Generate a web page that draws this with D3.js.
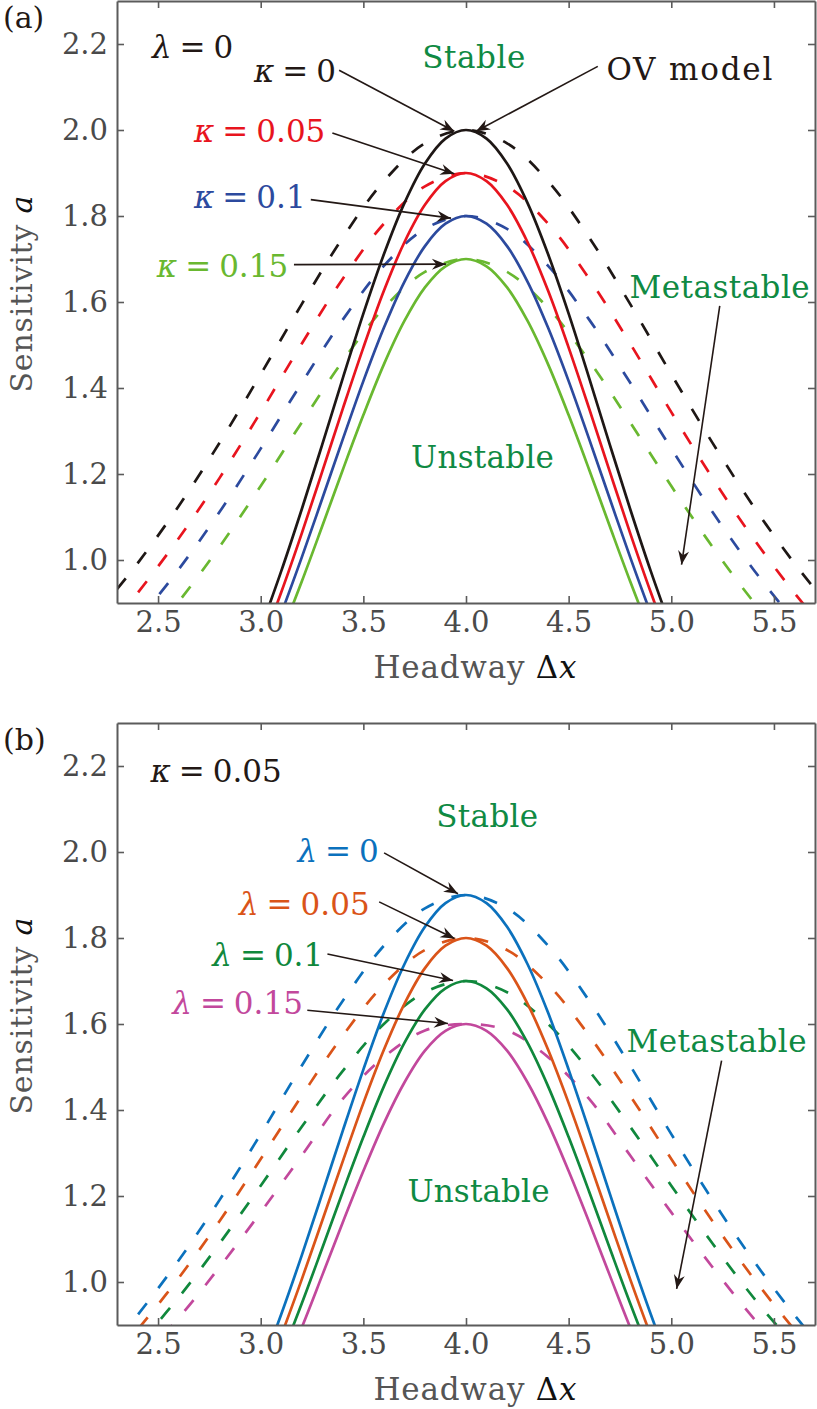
<!DOCTYPE html>
<html>
<head>
<meta charset="utf-8">
<script src="https://cdn.jsdelivr.net/npm/d3@7/dist/d3.min.js"></script>
<style>
  body { margin: 0; background: #fff; }
  svg text { font-family: "DejaVu Serif", "Liberation Serif", serif; }
</style>
</head>
<body>
<svg id="fig" width="817" height="1409"></svg>
<script>
// ---- data ----
// headway grid for the neutral stability (solid) curves
const xSolid = [3.0, 3.1, 3.2, 3.3, 3.4, 3.5, 3.6, 3.7, 3.8, 3.9, 4.0,
                4.1, 4.2, 4.3, 4.4, 4.5, 4.6, 4.7, 4.8, 4.9, 5.0];
// headway grid for the coexisting (dashed) curves
const xDash = [2.3, 2.4, 2.6, 2.8, 3.0, 3.2, 3.4, 3.6, 3.8, 4.0,
               4.2, 4.4, 4.6, 4.8, 5.0, 5.2, 5.4, 5.6, 5.7];

// solid curves, peak 2.0 / 1.9 / 1.8 / 1.7 / 1.6
const solid20 = [0.840, 0.974, 1.118, 1.269, 1.423, 1.573, 1.711, 1.830, 1.922, 1.980, 2.000,
                 1.980, 1.922, 1.830, 1.711, 1.573, 1.423, 1.269, 1.118, 0.974, 0.840];
const solid19 = [0.798, 0.925, 1.062, 1.206, 1.352, 1.494, 1.626, 1.739, 1.826, 1.881, 1.900,
                 1.881, 1.826, 1.739, 1.626, 1.494, 1.352, 1.206, 1.062, 0.925, 0.798];
const solid18 = [0.756, 0.876, 1.006, 1.143, 1.281, 1.416, 1.540, 1.647, 1.730, 1.782, 1.800,
                 1.782, 1.730, 1.647, 1.540, 1.416, 1.281, 1.143, 1.006, 0.876, 0.756];
const solid17 = [0.714, 0.828, 0.950, 1.079, 1.210, 1.337, 1.455, 1.556, 1.634, 1.683, 1.700,
                 1.683, 1.634, 1.556, 1.455, 1.337, 1.210, 1.079, 0.950, 0.828, 0.714];
const solid16 = [0.672, 0.779, 0.894, 1.016, 1.139, 1.258, 1.369, 1.464, 1.538, 1.584, 1.600,
                 1.584, 1.538, 1.464, 1.369, 1.258, 1.139, 1.016, 0.894, 0.779, 0.672];

// dashed curves, panel (a): kappa = 0, 0.05, 0.1, 0.15
const dashK0   = [0.932, 0.992, 1.125, 1.273, 1.432, 1.595, 1.750, 1.881, 1.969, 2.000,
                  1.969, 1.881, 1.750, 1.595, 1.432, 1.273, 1.125, 0.992, 0.932];
const dashK005 = [0.866, 0.923, 1.050, 1.191, 1.344, 1.503, 1.654, 1.782, 1.869, 1.900,
                  1.869, 1.782, 1.654, 1.503, 1.344, 1.191, 1.050, 0.923, 0.866];
const dashK01  = [0.803, 0.858, 0.978, 1.112, 1.259, 1.412, 1.559, 1.684, 1.770, 1.800,
                  1.770, 1.684, 1.559, 1.412, 1.259, 1.112, 0.978, 0.858, 0.803];
const dashK015 = [0.739, 0.790, 0.903, 1.031, 1.172, 1.320, 1.463, 1.586, 1.670, 1.700,
                  1.670, 1.586, 1.463, 1.320, 1.172, 1.031, 0.903, 0.790, 0.739];

// dashed curves, panel (b): lambda = 0, 0.05, 0.1, 0.15
const dashL0   = [0.866, 0.923, 1.050, 1.191, 1.344, 1.503, 1.654, 1.782, 1.869, 1.900,
                  1.869, 1.782, 1.654, 1.503, 1.344, 1.191, 1.050, 0.923, 0.866];
const dashL005 = [0.835, 0.889, 1.009, 1.142, 1.286, 1.433, 1.573, 1.692, 1.772, 1.800,
                  1.772, 1.692, 1.573, 1.433, 1.286, 1.142, 1.009, 0.889, 0.835];
const dashL01  = [0.800, 0.852, 0.964, 1.090, 1.224, 1.361, 1.491, 1.600, 1.674, 1.700,
                  1.674, 1.600, 1.491, 1.361, 1.224, 1.090, 0.964, 0.852, 0.800];
const dashL015 = [0.765, 0.811, 0.916, 1.035, 1.162, 1.294, 1.426, 1.523, 1.585, 1.600,
                  1.585, 1.523, 1.426, 1.294, 1.162, 1.035, 0.916, 0.811, 0.765];

const xTicks = [2.5, 3.0, 3.5, 4.0, 4.5, 5.0, 5.5];
const yTicks = [1.0, 1.2, 1.4, 1.6, 1.8, 2.0, 2.2];

// ---- styling ----
const ink = "#231815";
const txtGreen = "#0f8a43";
const serif = "DejaVu Serif, Liberation Serif, serif";
const labelSize = 31;
const tickSize = 29;

const svg = d3.select("#fig");
const defs = svg.append("defs");

defs.append("marker")
    .attr("id", "head")
    .attr("markerUnits", "userSpaceOnUse")
    .attr("viewBox", "-15 -7 16 14")
    .attr("markerWidth", 16)
    .attr("markerHeight", 14)
    .attr("refX", 0)
    .attr("refY", 0)
    .attr("orient", "auto")
    .append("path")
    .attr("d", "M0,0 L-14,-5.5 L-9.5,0 L-14,5.5 Z")
    .attr("fill", ink);

const x = d3.scaleLinear().domain([2.3, 5.7]).range([117, 815]);

// word label (stretched a little to the width of the original font)
function addWord(g, y, lab) {
    g.append("text")
        .attr("x", x(lab.x))
        .attr("y", y(lab.y))
        .attr("fill", lab.color)
        .attr("font-family", serif)
        .attr("font-size", labelSize)
        .attr("textLength", lab.w)
        .attr("lengthAdjust", "spacing")
        .text(lab.text);
}

// "symbol = value" label with relation spacing round the "="
function addEq(g, y, lab) {
    const t = g.append("text")
        .attr("x", x(lab.x))
        .attr("y", y(lab.y))
        .attr("fill", lab.color)
        .attr("font-family", serif)
        .attr("font-size", labelSize);
    t.append("tspan").text(lab.sym).attr("font-style", "italic");
    t.append("tspan").text("=").attr("dx", 8);
    t.append("tspan").text(lab.val).attr("dx", 8);
}

function drawPanel(cfg) {
    const top = cfg.top, h = 602;
    const y = d3.scaleLinear().domain([0.9, 2.3]).range([top + h, top]);
    const g = svg.append("g");

    defs.append("clipPath").attr("id", "clip-" + cfg.id)
        .append("rect")
        .attr("x", x(2.3)).attr("y", top)
        .attr("width", x(5.7) - x(2.3)).attr("height", h);

    const line = d3.line()
        .x(d => x(d[0]))
        .y(d => y(d[1]))
        .curve(d3.curveCatmullRom);

    const curves = g.append("g").attr("clip-path", `url(#clip-${cfg.id})`);

    cfg.series.forEach(s => {
        curves.append("path")
            .datum(xDash.map((v, i) => [v, s.dash[i]]))
            .attr("d", line)
            .attr("fill", "none")
            .attr("stroke", s.color)
            .attr("stroke-width", 2.7)
            .attr("stroke-dasharray", "14,19");
    });
    cfg.series.forEach(s => {
        curves.append("path")
            .datum(xSolid.map((v, i) => [v, s.solid[i]]))
            .attr("d", line)
            .attr("fill", "none")
            .attr("stroke", s.color)
            .attr("stroke-width", 2.7);
    });

    // axes, ticks pointing inward on all four sides
    const fmt = d3.format(".1f");
    const axB = g.append("g").attr("transform", `translate(0,${top + h})`)
        .call(d3.axisBottom(x).tickValues(xTicks).tickSize(-7).tickSizeOuter(0).tickPadding(8).tickFormat(fmt));
    const axL = g.append("g").attr("transform", `translate(${x(2.3)},0)`)
        .call(d3.axisLeft(y).tickValues(yTicks).tickSize(-7).tickSizeOuter(0).tickPadding(9).tickFormat(fmt));
    const axT = g.append("g").attr("transform", `translate(0,${top})`)
        .call(d3.axisTop(x).tickValues(xTicks).tickSize(-7).tickSizeOuter(0).tickFormat(""));
    const axR = g.append("g").attr("transform", `translate(${x(5.7)},0)`)
        .call(d3.axisRight(y).tickValues(yTicks).tickSize(-7).tickSizeOuter(0).tickFormat(""));

    [axB, axL, axT, axR].forEach(a => {
        a.attr("font-family", serif);
        a.select(".domain").attr("stroke", "#5b5b5b").attr("stroke-width", 2);
        a.selectAll(".tick line").attr("stroke", "#5b5b5b").attr("stroke-width", 1.6);
        a.selectAll("text")
            .attr("font-family", serif)
            .attr("font-size", tickSize)
            .attr("fill", "#4a4a4a");
    });

    // axis titles
    const xt = g.append("text")
        .attr("x", 475).attr("y", top + h + 75)
        .attr("text-anchor", "middle")
        .attr("font-family", serif)
        .attr("font-size", labelSize)
        .attr("fill", "#555")
        .attr("textLength", 203).attr("lengthAdjust", "spacing");
    xt.append("tspan").text("Headway ");
    xt.append("tspan").text("Δ").attr("fill", "#111");
    xt.append("tspan").text("x").attr("font-style", "italic").attr("fill", "#111");

    const yt = g.append("text")
        .attr("transform", `translate(32,${top + h / 2 - 8}) rotate(-90)`)
        .attr("text-anchor", "middle")
        .attr("font-family", serif)
        .attr("font-size", 30)
        .attr("fill", "#555")
        .attr("textLength", 197).attr("lengthAdjust", "spacing");
    yt.append("tspan").text("Sensitivity ");
    yt.append("tspan").text("a").attr("font-style", "italic").attr("fill", "#111");

    // panel letter
    g.append("text")
        .attr("x", 3).attr("y", top + 27)
        .attr("font-family", serif)
        .attr("font-size", 30)
        .attr("fill", ink)
        .text(cfg.letter);

    cfg.eqs.forEach(lab => addEq(g, y, lab));
    cfg.words.forEach(lab => addWord(g, y, lab));

    cfg.arrows.forEach(a => {
        g.append("line")
            .attr("x1", x(a[0])).attr("y1", y(a[1]))
            .attr("x2", x(a[2])).attr("y2", y(a[3]))
            .attr("stroke", ink)
            .attr("stroke-width", 1.6)
            .attr("marker-end", "url(#head)");
    });
}

drawPanel({
    id: "a", top: 1, letter: "(a)",
    series: [
        { color: "#1e1715", solid: solid20, dash: dashK0 },
        { color: "#e8141e", solid: solid19, dash: dashK005 },
        { color: "#2c4a9e", solid: solid18, dash: dashK01 },
        { color: "#69b830", solid: solid17, dash: dashK015 }
    ],
    eqs: [
        { sym: "λ", val: "0", x: 2.470, y: 2.168, color: ink },
        { sym: "κ", val: "0", x: 2.967, y: 2.112, color: ink },
        { sym: "κ", val: "0.05", x: 2.675, y: 1.973, color: "#e8141e" },
        { sym: "κ", val: "0.1", x: 2.675, y: 1.819, color: "#2c4a9e" },
        { sym: "κ", val: "0.15", x: 2.494, y: 1.659, color: "#69b830" }
    ],
    words: [
        { text: "Stable", x: 3.787, y: 2.145, w: 103, color: txtGreen },
        { text: "OV model", x: 4.684, y: 2.117, w: 166, color: ink },
        { text: "Metastable", x: 4.797, y: 1.610, w: 180, color: txtGreen },
        { text: "Unstable", x: 3.732, y: 1.215, w: 143, color: txtGreen }
    ],
    arrows: [
        [3.382, 2.139, 3.943, 1.997],
        [4.642, 2.148, 4.049, 1.997],
        [3.349, 1.993, 3.943, 1.898],
        [3.244, 1.838, 3.927, 1.795],
        [3.162, 1.687, 3.902, 1.688],
        [5.236, 1.591, 5.050, 0.989]
    ]
});

drawPanel({
    id: "b", top: 723, letter: "(b)",
    series: [
        { color: "#0b71bd", solid: solid19, dash: dashL0 },
        { color: "#da5419", solid: solid18, dash: dashL005 },
        { color: "#10883c", solid: solid17, dash: dashL01 },
        { color: "#c2489c", solid: solid16, dash: dashL015 }
    ],
    eqs: [
        { sym: "κ", val: "0.05", x: 2.463, y: 2.163, color: ink },
        { sym: "λ", val: "0", x: 3.179, y: 1.977, color: "#0b71bd" },
        { sym: "λ", val: "0.05", x: 2.894, y: 1.854, color: "#da5419" },
        { sym: "λ", val: "0.1", x: 2.764, y: 1.734, color: "#10883c" },
        { sym: "λ", val: "0.15", x: 2.569, y: 1.624, color: "#c2489c" }
    ],
    words: [
        { text: "Stable", x: 3.855, y: 2.058, w: 102, color: txtGreen },
        { text: "Metastable", x: 4.782, y: 1.535, w: 180, color: txtGreen },
        { text: "Unstable", x: 3.715, y: 1.186, w: 142, color: txtGreen }
    ],
    arrows: [
        [3.601, 1.998, 3.961, 1.903],
        [3.577, 1.884, 3.944, 1.799],
        [3.325, 1.763, 3.937, 1.701],
        [3.227, 1.632, 3.912, 1.601],
        [5.245, 1.515, 5.026, 0.984]
    ]
});
</script>
</body>
</html>
